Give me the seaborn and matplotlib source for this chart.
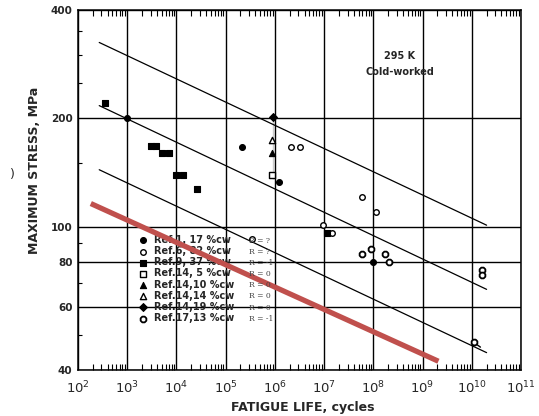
import numpy as np
import pandas as pd
import matplotlib
matplotlib.use("Agg")
import matplotlib.pyplot as plt
from matplotlib.ticker import FixedLocator, FixedFormatter, LogLocator, LogFormatterMathtext, NullFormatter
import seaborn as sns

# ---------------- data ----------------
ref1_N = [1e3, 2.1e5, 1.2e6, 1e8]
ref1_S = [200, 167, 133, 80]

ref6_N = [3.5e5, 2.1e6, 3.3e6, 9.5e6, 1.47e7, 6.0e7, 1.12e8]
ref6_S = [92.7, 167, 167, 100.8, 96, 121, 110]

ref9_N = [3.55e2, 3.0e3, 3.8e3, 5.0e3, 7.2e3, 1.0e4, 1.35e4, 2.6e4, 1.17e7]
ref9_S = [220, 168, 168, 160, 160, 139, 139, 127, 96]

ref14_5_N = [8.9e5]
ref14_5_S = [139]
ref14_10_N = [8.9e5]
ref14_10_S = [160]
ref14_14_N = [8.9e5]
ref14_14_S = [174]
ref14_19_N = [9.0e5]
ref14_19_S = [202]

ref17_N = [6.0e7, 9.1e7, 1.74e8, 2.1e8, 1.1e10, 1.6e10, 1.6e10]
ref17_S = [84, 87, 84, 80, 47.7, 76, 73.5]

series_labels = ["Ref.1, 17 %cw", "Ref.6, 82 %cw", "Ref.9, 37 %cw", "Ref.14, 5 %cw",
                 "Ref.14,10 %cw", "Ref.14,14 %cw", "Ref.14,19 %cw", "Ref.17,13 %cw"]
ratio_notes = ["R = ?", "R = ?", "R = -1", "R = 0", "R = 0", "R = 0", "R = 0", "R = -1"]

# scatter-band lines
band_N = [2.7e2, 2.0e10]
upper_S = [325, 101]
middle_S = [217, 67]
lower_S = [144, 44.7]
red_N = [1.82e2, 2.1e9]
red_S = [116, 42.3]

vline_N = [9.0e5, 9.0e5]
vline_S = [202, 136]
runout_N = [1.1e10, 1.5e10]
runout_S = [47.7, 46.3]

xticks = [1e2, 1e3, 1e4, 1e5, 1e6, 1e7, 1e8, 1e9, 1e10, 1e11]
yticks = [40, 60, 80, 100, 200, 400]
ytick_labels = ["40", "60", "80", "100", "200", "400"]

# ---------------- figure ----------------
sns.set_style("white")
plt.rcParams['font.family'] = ['DejaVu Sans']

W, H = 539, 416
fig = plt.figure(figsize=(W / 100, H / 100), dpi=100)
ax = fig.add_axes([78 / W, 1 - 370 / H, 443 / W, 360 / H])
ax.set_xscale('log')
ax.set_yscale('log')

# lines
for s in (upper_S, middle_S, lower_S):
    sns.lineplot(x=band_N, y=s, ax=ax, color='black', lw=0.9, zorder=3)
sns.lineplot(x=vline_N, y=vline_S, ax=ax, color='black', lw=1.0, zorder=3)
sns.lineplot(x=runout_N, y=runout_S, ax=ax, color='black', lw=1.0, zorder=3)

# scatter series
specs = [
    (ref1_N, ref1_S, 'o', 'black', 18, 0.8),
    (ref6_N, ref6_S, 'o', 'white', 16, 1.0),
    (ref9_N, ref9_S, 's', 'black', 18, 0.8),
    (ref14_5_N, ref14_5_S, 's', 'white', 16, 1.0),
    (ref14_10_N, ref14_10_S, '^', 'black', 20, 0.8),
    (ref14_14_N, ref14_14_S, '^', 'white', 20, 1.0),
    (ref14_19_N, ref14_19_S, 'D', 'black', 16, 0.8),
    (ref17_N, ref17_S, '8', 'white', 20, 1.3),
]
handles = []
for (n, s_, m, fc, size, lw), lab in zip(specs, series_labels):
    before = len(ax.collections)
    sns.scatterplot(x=n, y=s_, ax=ax, marker=m, s=size, color=fc,
                    edgecolor='black', linewidth=lw, zorder=5, legend=False)
    handles.append(ax.collections[before])

# red overlay line
sns.lineplot(x=red_N, y=red_S, ax=ax, color='#c0504d', lw=3.8, zorder=6,
             solid_capstyle='butt')

# axes
ax.set_xlim(1e2, 1e11)
ax.set_ylim(40, 400)
ax.xaxis.set_major_locator(FixedLocator(xticks))
ax.xaxis.set_major_formatter(LogFormatterMathtext())
ax.xaxis.set_minor_locator(LogLocator(base=10, subs=np.arange(2, 10), numticks=20))
ax.xaxis.set_minor_formatter(NullFormatter())
ax.yaxis.set_major_locator(FixedLocator(yticks))
ax.yaxis.set_major_formatter(FixedFormatter(ytick_labels))
ax.yaxis.set_minor_locator(FixedLocator([50, 70, 90, 150, 250, 300, 350]))
ax.yaxis.set_minor_formatter(NullFormatter())

ax.grid(True, which='major', color='black', lw=1.0)
ax.set_axisbelow(True)
for sp in ax.spines.values():
    sp.set_color('black')
    sp.set_linewidth(1.1)

ax.tick_params(axis='x', which='major', direction='in', length=0, labelsize=9.5, pad=7)
ax.tick_params(axis='x', which='minor', direction='in', length=4, width=0.8,
               top=True, bottom=True, color='black')
ax.tick_params(axis='y', which='major', direction='in', length=0, labelsize=7.5, pad=4)
ax.tick_params(axis='y', which='minor', direction='in', length=3, width=0.8,
               left=True, color='black')
for t in ax.get_yticklabels():
    t.set_fontweight('bold')

ax.set_xlabel("FATIGUE LIFE, cycles", fontsize=9, fontweight='bold')
ax.xaxis.set_label_coords((303 - 78) / 443, -0.085)
ax.set_ylabel("MAXIMUM STRESS, MPa", fontsize=9, fontweight='bold')
ax.yaxis.set_label_coords((41 - 78) / 443, (370 - 170) / 360)

# legend
leg = ax.legend(handles, series_labels, loc='upper left',
                bbox_to_anchor=((138 - 78) / 443, (370 - 235) / 360),
                frameon=False, prop={'weight': 'bold', 'size': 7},
                handlelength=1.0, handletextpad=0.6, labelspacing=0.12,
                borderpad=0, borderaxespad=0, markerscale=1.0)
leg.set_zorder(4)

# handwritten R notes beside legend
for i, note in enumerate(ratio_notes):
    fig.text(249 / W, 1 - (241 + i * 11.1) / H, note, fontsize=5.5,
             family='DejaVu Serif', color='#444444', va='center', ha='left')

# annotation
fig.text(400 / W, 1 - 56 / H, "295 K", fontsize=7, fontweight='bold', ha='center', va='center')
fig.text(400 / W, 1 - 72 / H, "Cold-worked", fontsize=7, fontweight='bold', ha='center', va='center')
fig.text(12 / W, 1 - 174 / H, ")", fontsize=9, ha='center', va='center')

fig.savefig("out.png", dpi=100)
